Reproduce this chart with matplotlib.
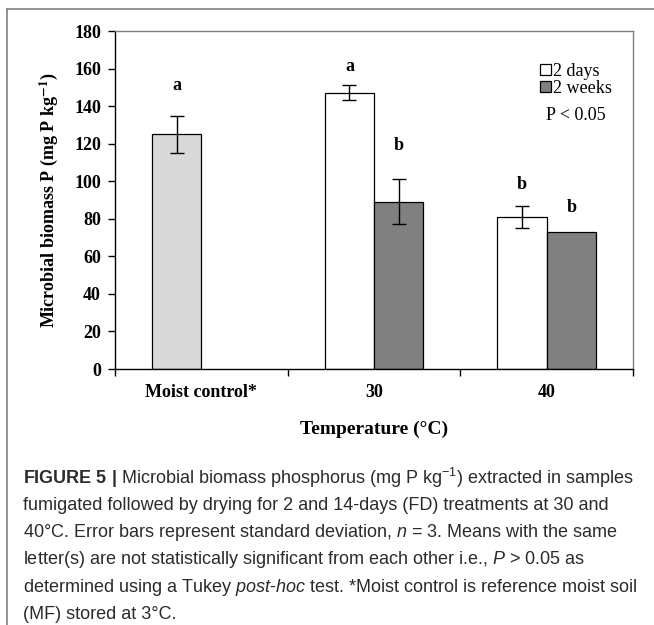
import matplotlib
matplotlib.use("Agg")
import matplotlib.pyplot as plt
from matplotlib.patches import Patch
from matplotlib.lines import Line2D
import numpy as np

plt.rcParams['mathtext.fontset'] = 'custom'
plt.rcParams['mathtext.rm'] = 'Liberation Sans'
plt.rcParams['mathtext.it'] = 'Liberation Sans:italic'
plt.rcParams['mathtext.bf'] = 'Liberation Sans:bold'

# ---- data ----
categories = ["Moist control*", "30", "40"]
series_names = ["2 days", "2 weeks"]
control_value = 125
control_err = 10
days2_values = [147, 81]
days2_err = [4, 6]
weeks2_values = [89, 73]
weeks2_err = [12, 0]
letters_control = "a"
letters_days2 = ["a", "b"]
letters_weeks2 = ["b", "b"]
letter_y_control = 151
letter_y_days2 = [161, 98]
letter_y_weeks2 = [119, 86]
yticks = [0, 20, 40, 60, 80, 100, 120, 140, 160, 180]

caption_lines = [
    r"$\mathbf{FIGURE\ 5\ |}$ Microbial biomass phosphorus (mg P kg$^{-1}$) extracted in samples",
    r"fumigated followed by drying for 2 and 14-days (FD) treatments at 30 and",
    r"40°C. Error bars represent standard deviation, $\mathit{n}$ = 3. Means with the same",
    r"letter(s) are not statistically significant from each other i.e., $\mathit{P}$ > 0.05 as",
    r"determined using a Tukey $\mathit{post}$-$\mathit{hoc}$ test. *Moist control is reference moist soil",
    r"(MF) stored at 3°C.",
]

W, H = 654, 625
fig = plt.figure(figsize=(W / 100, H / 100), dpi=100)

# outer frame lines (left and top)
fig.add_artist(Line2D([7 / W, 7 / W], [0, 1 - 9 / H], color="#8a8a8a", lw=1.3, transform=fig.transFigure))
fig.add_artist(Line2D([7 / W, 1], [1 - 9 / H, 1 - 9 / H], color="#8a8a8a", lw=1.3, transform=fig.transFigure))

left, right, top, bottom = 115, 633, 31, 369
ax = fig.add_axes([left / W, 1 - bottom / H, (right - left) / W, (bottom - top) / H])

serif = "Liberation Serif"
bw = 0.285
x = np.arange(len(categories))
ekw = dict(ecolor="black", elinewidth=1.0, capsize=5, capthick=1.0)

ax.bar(x[0] - bw / 2, control_value, bw, color="#d9d9d9", edgecolor="black", linewidth=0.9,
       yerr=control_err, error_kw=ekw, zorder=2)
ax.bar(x[1:] - bw / 2, days2_values, bw, color="white", edgecolor="black", linewidth=0.9,
       yerr=days2_err, error_kw=ekw, zorder=2)
ax.bar(x[1:] + bw / 2, weeks2_values, bw, color="#808080", edgecolor="black", linewidth=0.9,
       yerr=[e if e > 0 else np.nan for e in weeks2_err], error_kw=ekw, zorder=2)

lkw = dict(ha="center", va="center", fontsize=13, fontweight="bold", family=serif)
ax.text(x[0] - bw / 2, letter_y_control, letters_control, **lkw)
for i in range(2):
    ax.text(x[i + 1] - bw / 2, letter_y_days2[i], letters_days2[i], **lkw)
    ax.text(x[i + 1] + bw / 2, letter_y_weeks2[i], letters_weeks2[i], **lkw)

ax.set_xlim(-0.5, 2.5)
ax.set_ylim(0, 180)
ax.set_yticks(yticks)
ax.set_yticklabels([str(t) for t in yticks], family=serif, fontweight="bold", fontsize=13)
ax.set_xticks([-0.5, 0.5, 1.5, 2.5])
ax.set_xticklabels([])
ax.set_xticks(x, minor=True)
ax.set_xticklabels(categories, minor=True, family=serif, fontweight="bold", fontsize=13)
ax.tick_params(axis="x", which="minor", length=0, pad=11)
ax.tick_params(axis="x", which="major", length=5, width=1, direction="out")
ax.tick_params(axis="y", length=5, width=1, direction="out", pad=5)

for s in ["left", "bottom"]:
    ax.spines[s].set_color("black")
    ax.spines[s].set_linewidth(1.0)
for s in ["top", "right"]:
    ax.spines[s].set_color("#7f7f7f")
    ax.spines[s].set_linewidth(1.0)

ax.set_ylabel(r"Microbial biomass P (mg P kg$^{\mathbf{-1}}$)", family=serif, fontweight="bold",
              fontsize=13, math_fontfamily="stix", labelpad=10)
ax.set_xlabel("Temperature (°C)", family=serif, fontweight="bold", fontsize=14, labelpad=14)

handles = [Patch(facecolor="white", edgecolor="black", linewidth=0.9),
           Patch(facecolor="#808080", edgecolor="black", linewidth=0.9)]
ax.legend(handles, series_names, loc="upper right", bbox_to_anchor=(0.96, 0.905), frameon=False,
          prop=dict(family=serif, size=13), handlelength=0.6, handleheight=0.6,
          handletextpad=0.15, labelspacing=0.0, borderpad=0, borderaxespad=0)
ax.text(0.89, 135, "P < 0.05", transform=ax.get_yaxis_transform(), ha="center", va="center",
        family=serif, fontsize=13)

# caption
for i, line in enumerate(caption_lines):
    fig.text(23 / W, 1 - (478 + 27.3 * i) / H, line, ha="left", va="center", fontsize=13,
             family="Liberation Sans", color="#2b2b2b", math_fontfamily="custom")

fig.savefig("out.png", dpi=100)
